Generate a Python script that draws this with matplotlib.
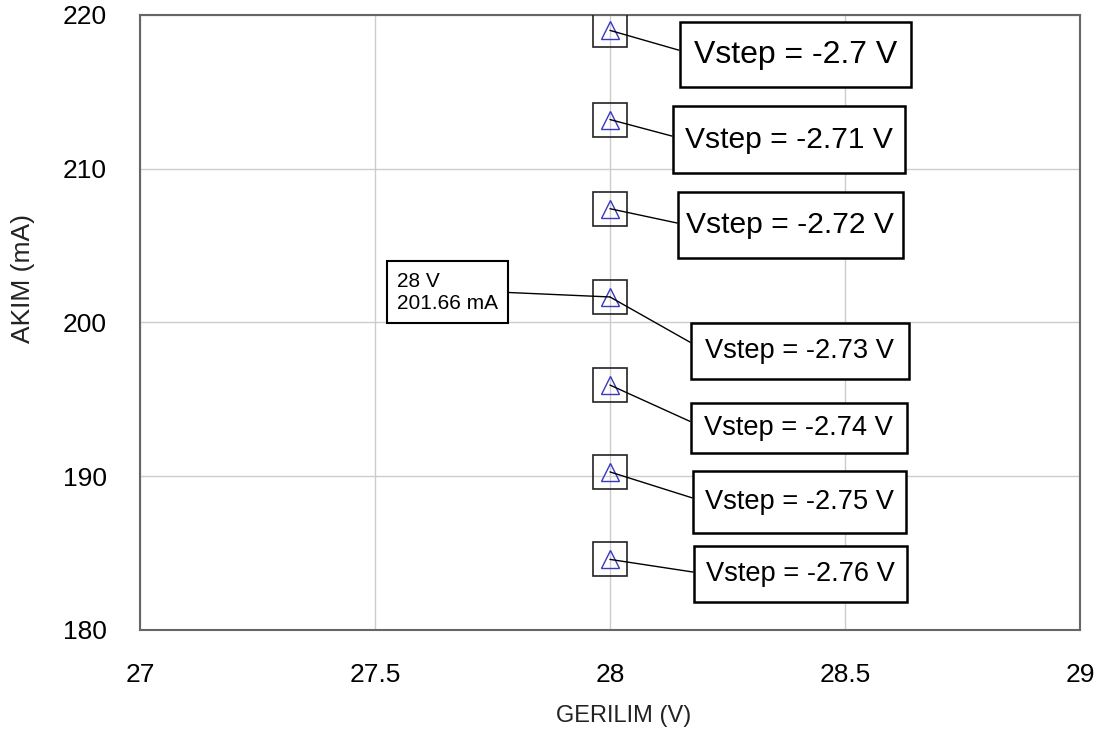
import matplotlib.pyplot as plt
from matplotlib.path import Path

plt.rcParams['font.family'] = ['Liberation Sans', 'DejaVu Sans']

# operating point (V) and drain current (mA) for each gate step
gerilim = [28, 28, 28, 28, 28, 28, 28]
akim = [219.0, 213.2, 207.4, 201.66, 195.93, 190.28, 184.59]
vstep = [-2.70, -2.71, -2.72, -2.73, -2.74, -2.75, -2.76]
vstep_text = ['-2.7', '-2.71', '-2.72', '-2.73', '-2.74', '-2.75', '-2.76']
marker_idx = 3

# where the label boxes sit (data coords of text left / centre), font sizes, box padding
label_x = [28.1787, 28.1596, 28.1628, 28.2032, 28.2011, 28.2021, 28.2043]
label_y = [217.43, 211.90, 206.34, 198.15, 193.14, 188.33, 183.64]
label_fs = [23, 21.6, 21.6, 19.6, 19.6, 19.6, 19.6]
pad_x = [0.44, 0.40, 0.28, 0.53, 0.50, 0.44, 0.44]
pad_y = [0.56, 0.65, 0.63, 0.55, 0.44, 0.66, 0.55]


def rect_box(px, py):
    # square box with separate horizontal / vertical padding
    def style(x0, y0, width, height, mutation_size):
        dx = px * mutation_size
        dy = py * mutation_size
        x1, y1 = x0 + width + dx, y0 + height + dy
        xa, ya = x0 - dx, y0 - dy
        return Path([(xa, ya), (x1, ya), (x1, y1), (xa, y1), (xa, ya)], closed=True)
    return style


fig = plt.figure(figsize=(11.04, 7.35), dpi=100)
ax = fig.add_axes([0.1268, 0.1429, 0.8514, 0.8367])

ax.plot(gerilim, akim, linestyle='none', marker='s', markersize=24,
        markerfacecolor='none', markeredgecolor='#222222', markeredgewidth=1.2, zorder=3)
ax.plot(gerilim, akim, linestyle='none', marker='^', markersize=12.5,
        markerfacecolor='none', markeredgecolor='#3838c0', markeredgewidth=1.0, zorder=4)

for i in range(len(akim)):
    ax.annotate('Vstep = %s V' % vstep_text[i], xy=(gerilim[i], akim[i]),
                xytext=(label_x[i], label_y[i]), textcoords='data',
                ha='left', va='center', fontsize=label_fs[i], color='black',
                bbox=dict(boxstyle=rect_box(pad_x[i], pad_y[i]), fc='white',
                          ec='black', lw=1.8),
                arrowprops=dict(arrowstyle='-', color='black', lw=1.0,
                                shrinkA=0, shrinkB=0, relpos=(0, 0.5)),
                zorder=5)

ax.annotate('%g V\n%.2f mA' % (gerilim[marker_idx], akim[marker_idx]),
            xy=(gerilim[marker_idx], akim[marker_idx]),
            xytext=(27.7617, 201.98), textcoords='data',
            ha='right', va='center', multialignment='left', fontsize=15,
            bbox=dict(boxstyle='square,pad=0.5', fc='white', ec='black', lw=1.5),
            arrowprops=dict(arrowstyle='-', color='black', lw=1.0,
                            shrinkA=0, shrinkB=0, relpos=(1, 0.5)),
            zorder=5)

ax.set_xlim(27, 29)
ax.set_ylim(180, 220)
ax.set_xticks([27, 27.5, 28, 28.5, 29])
ax.set_xticklabels(['27', '27.5', '28', '28.5', '29'])
ax.set_yticks([180, 190, 200, 210, 220])
ax.grid(True, color='#cccccc', linewidth=1.0)
ax.set_axisbelow(True)
ax.tick_params(axis='x', length=0, pad=24, labelsize=19)
ax.tick_params(axis='y', length=0, pad=24, labelsize=19)
for sp in ax.spines.values():
    sp.set_color('#666666')
    sp.set_linewidth(1.5)

ax.set_xlabel('GERILIM (V)', fontsize=17, color='#222222')
ax.set_ylabel('AKIM (mA)', fontsize=19, color='#222222')
ax.xaxis.set_label_coords(0.515, -0.122)
ax.yaxis.set_label_coords(-0.1117, 0.571)

fig.savefig('out.png', dpi=100)
